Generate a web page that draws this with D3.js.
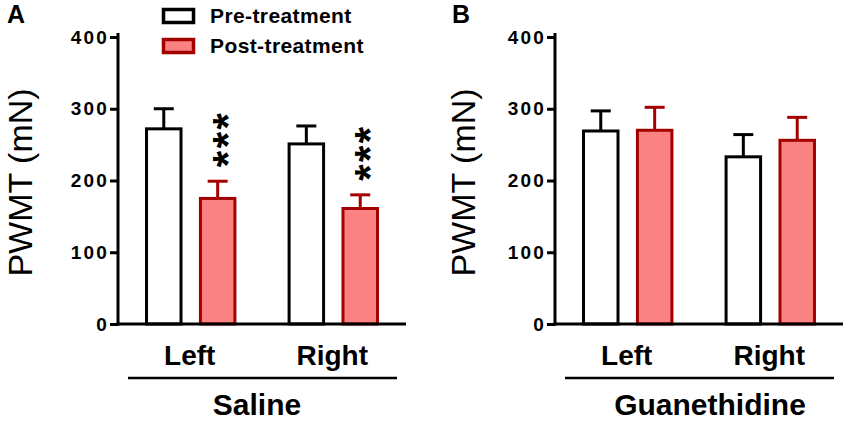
<!DOCTYPE html>
<html>
<head>
<meta charset="utf-8">
<script src="https://cdn.jsdelivr.net/npm/d3@7"></script>
<style>
  body { margin: 0; background: #fff; }
  svg { font-family: "Liberation Sans", Arial, sans-serif; }
  .tick text { font-size: 19px; font-weight: bold; letter-spacing: 2.2px; fill: #000; }
</style>
</head>
<body>
<div id="chart"></div>
<script>
// Data
var categories = ["Left", "Right"];
var series = ["Pre-treatment", "Post-treatment"];
var yTicks = [0, 100, 200, 300, 400];

var salinePre = [272, 251];
var salinePreSem = [28, 25];
var salinePost = [175, 161];
var salinePostSem = [24, 19];
var salineSig = ["***", "***"];

var guanPre = [269, 233];
var guanPreSem = [28, 31];
var guanPost = [270, 256];
var guanPostSem = [32, 32];
var guanSig = ["", ""];

var panelLetters = ["A", "B"];
var groupTitles = ["Saline", "Guanethidine"];
var yLabel = "PWMT (mN)";

// Variables
var chart_width = 850;
var chart_height = 422;
var plot_w = 288;
var y_top = 37, y_bottom = 324;
var fills = ["#ffffff", "#fa8282"];
var strokes = ["#000000", "#a30000"];

var svg = d3.select("#chart")
    .append("svg")
    .attr("width", chart_width)
    .attr("height", chart_height);

var y_scale = d3.scaleLinear()
    .domain([0, 400])
    .range([y_bottom, y_top]);

// panel layout (axis x, label offsets)
var panels = [
    { ax: 118, letterX: 7, labelX: 32, titleX: 257,
      means: [salinePre, salinePost], sems: [salinePreSem, salinePostSem], sig: salineSig },
    { ax: 555, letterX: 452, labelX: 475, titleX: 710,
      means: [guanPre, guanPost], sems: [guanPreSem, guanPostSem], sig: guanSig }
];

panels.forEach(function(p, pi) {
    var g = svg.append("g");

    var x_group = d3.scaleBand()
        .domain(categories)
        .range([p.ax, p.ax + plot_w])
        .paddingInner(0.38)
        .paddingOuter(0.2);

    var x_series = d3.scaleBand()
        .domain(series)
        .range([0, x_group.bandwidth()])
        .paddingInner(0.36)
        .paddingOuter(0);

    var bw = x_series.bandwidth();

    // bars + error bars
    series.forEach(function(s, si) {
        var rows = categories.map(function(c, ci) {
            return { cat: c, mean: p.means[si][ci], sem: p.sems[si][ci] };
        });
        var sg = g.append("g");
        sg.selectAll("rect")
            .data(rows)
            .enter()
            .append("rect")
            .attr("x", function(d) { return x_group(d.cat) + x_series(s); })
            .attr("y", function(d) { return y_scale(d.mean); })
            .attr("width", bw)
            .attr("height", function(d) { return y_bottom - y_scale(d.mean); })
            .attr("fill", fills[si])
            .attr("stroke", strokes[si])
            .attr("stroke-width", 3);

        sg.selectAll("line.err")
            .data(rows)
            .enter()
            .append("line")
            .attr("class", "err")
            .attr("x1", function(d) { return x_group(d.cat) + x_series(s) + bw / 2; })
            .attr("x2", function(d) { return x_group(d.cat) + x_series(s) + bw / 2; })
            .attr("y1", function(d) { return y_scale(d.mean); })
            .attr("y2", function(d) { return y_scale(d.mean + d.sem); })
            .attr("stroke", strokes[si])
            .attr("stroke-width", 3);

        sg.selectAll("line.cap")
            .data(rows)
            .enter()
            .append("line")
            .attr("class", "cap")
            .attr("x1", function(d) { return x_group(d.cat) + x_series(s) + bw / 2 - 10; })
            .attr("x2", function(d) { return x_group(d.cat) + x_series(s) + bw / 2 + 10; })
            .attr("y1", function(d) { return y_scale(d.mean + d.sem); })
            .attr("y2", function(d) { return y_scale(d.mean + d.sem); })
            .attr("stroke", strokes[si])
            .attr("stroke-width", 3);
    });

    // significance stars above post bars
    categories.forEach(function(c, ci) {
        if (!p.sig[ci]) return;
        var cx = x_group(c) + x_series(series[1]) + bw / 2;
        var yb = y_scale(p.means[1][ci] + p.sems[1][ci]) - 14;
        g.append("text")
            .attr("transform", "translate(" + (cx + 24) + "," + yb + ") rotate(-90)")
            .attr("text-anchor", "start")
            .attr("font-size", 42)
            .attr("font-weight", "bold")
            .attr("letter-spacing", 2.5)
            .text(p.sig[ci]);
    });

    // y axis
    var y_axis = d3.axisLeft(y_scale)
        .tickValues(yTicks)
        .tickSize(8)
        .tickSizeOuter(0)
        .tickPadding(1);
    var ya = g.append("g")
        .attr("transform", "translate(" + p.ax + ",0)")
        .call(y_axis);
    ya.select(".domain").attr("stroke-width", 3).attr("d", "M0," + (y_top - 4) + "V" + (y_bottom + 1.5));
    ya.selectAll(".tick line").attr("stroke-width", 3);

    // baseline
    g.append("line")
        .attr("x1", p.ax - 1.5)
        .attr("x2", p.ax + plot_w)
        .attr("y1", y_bottom)
        .attr("y2", y_bottom)
        .attr("stroke", "#000")
        .attr("stroke-width", 3);

    // category labels
    g.selectAll("text.cat")
        .data(categories)
        .enter()
        .append("text")
        .attr("class", "cat")
        .attr("x", function(d) { return x_group(d) + x_group.bandwidth() / 2 - 1; })
        .attr("y", 365)
        .attr("text-anchor", "middle")
        .attr("font-size", 28)
        .attr("font-weight", "bold")
        .text(function(d) { return d; });

    // group bracket + title
    g.append("line")
        .attr("x1", p.ax + 10)
        .attr("x2", p.ax + 279)
        .attr("y1", 378)
        .attr("y2", 378)
        .attr("stroke", "#000")
        .attr("stroke-width", 2.5);

    g.append("text")
        .attr("x", p.titleX)
        .attr("y", 415)
        .attr("text-anchor", "middle")
        .attr("font-size", 30)
        .attr("font-weight", "bold")
        .text(groupTitles[pi]);

    // y label
    g.append("text")
        .attr("transform", "translate(" + p.labelX + "," + ((y_top + y_bottom) / 2 + 2) + ") rotate(-90)")
        .attr("text-anchor", "middle")
        .attr("font-size", 34)
        .text(yLabel);

    // panel letter
    g.append("text")
        .attr("x", p.letterX)
        .attr("y", 23)
        .attr("font-size", 25)
        .attr("font-weight", "bold")
        .text(panelLetters[pi]);
});

// Legend
var legend = svg.append("g").selectAll("g")
    .data(series)
    .enter()
    .append("g")
    .attr("transform", function(d, i) { return "translate(163.5," + (9.5 + i * 30) + ")"; });

legend.append("rect")
    .attr("width", 30)
    .attr("height", 13)
    .attr("fill", function(d, i) { return fills[i]; })
    .attr("stroke", function(d, i) { return strokes[i]; })
    .attr("stroke-width", 3.5);

legend.append("text")
    .attr("x", 46.5)
    .attr("y", 13.5)
    .attr("font-size", 21)
    .attr("font-weight", "bold")
    .attr("letter-spacing", 0.4)
    .text(function(d) { return d; });
</script>
</body>
</html>
